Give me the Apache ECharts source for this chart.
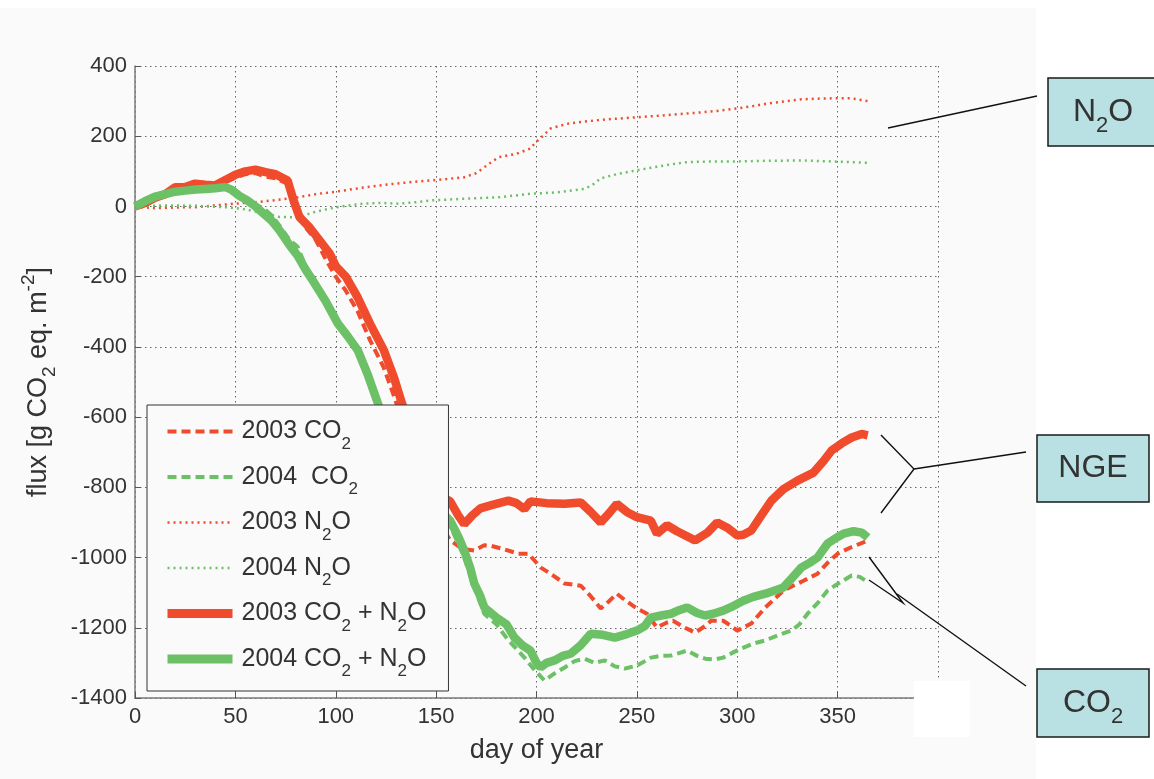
<!DOCTYPE html>
<html>
<head>
<meta charset="utf-8">
<script src="https://cdn.jsdelivr.net/npm/echarts@6/dist/echarts.min.js"></script>
<style>
  html, body { margin: 0; padding: 0; background: #fff; }
  #bg { position: absolute; left: 0; top: 8px; width: 1036px; height: 771px; background: #fafafa; }
  #chart { position: absolute; left: 0; top: 0; width: 1154px; height: 779px; }
</style>
</head>
<body>
<div id="bg"></div>
<div id="chart"></div>
<script>
// 2003 CO2 (dashed red)
var d03co2 = [0,5,10,15,20,25,30,35,40,45,50,55,60,65,70,76,80,85,90,95,100,105,111,117,124,129,133,137,142,147,152,157,163,169,174,177,183,191,196,202,208,214,222,227,232,236,240,245,250,255,260,265,268,274,279,284,287,293,297,300,307,314,323,333,340,345,350,357,365];
var v03co2 = [0,12,25,35,55,55,65,62,58,70,82,92,95,85,80,65,0,-60,-95,-150,-200,-240,-300,-380,-460,-540,-610,-690,-770,-850,-905,-951,-975,-980,-965,-966,-975,-989,-989,-1028,-1050,-1074,-1080,-1110,-1145,-1125,-1103,-1125,-1145,-1160,-1199,-1185,-1180,-1200,-1214,-1195,-1180,-1180,-1195,-1208,-1188,-1142,-1094,-1066,-1046,-1015,-989,-970,-952];

// 2004 CO2 (dashed green)
var d04co2 = [0,5,10,15,20,25,30,35,40,45,48,52,56,60,64,68,72,77,81,85,89,95,101,106,111,116,121,126,131,136,141,146,151,157,161,164,167,170,174,180,186,190,194,199,204,209,214,219,224,229,234,239,244,250,254,257,262,267,271,275,280,284,289,293,298,302,308,314,320,327,331,335,340,345,350,357,361,364];
var v04co2 = [0,15,28,35,42,45,48,50,52,55,50,35,20,5,-5,-25,-55,-95,-115,-170,-210,-270,-335,-378,-420,-490,-570,-650,-720,-780,-825,-860,-880,-910,-960,-1000,-1050,-1100,-1160,-1190,-1236,-1260,-1285,-1320,-1350,-1330,-1313,-1295,-1288,-1300,-1293,-1310,-1316,-1308,-1295,-1285,-1280,-1279,-1272,-1265,-1280,-1288,-1290,-1285,-1270,-1259,-1245,-1236,-1222,-1208,-1190,-1160,-1130,-1094,-1075,-1051,-1055,-1066];

// 2003 N2O (dotted red)
var d03n2o = [0,10,20,30,40,50,60,70,81,90,100,114,125,135,147,155,164,170,176,181,190,197,199,203,207,215,224,235,250,265,282,290,300,308,315,325,332,340,348,357,362,366];
var v03n2o = [0,-5,-3,-2,3,8,12,18,26,35,42,54,62,68,74,78,83,95,120,140,150,165,179,200,222,235,242,248,254,260,268,272,279,286,293,300,305,307,308,308,303,299];

// 2004 N2O (dotted green)
var d04n2o = [0,14,30,47,55,64,72,81,90,97,105,114,122,131,140,147,164,181,197,210,224,228,232,240,250,262,274,286,298,315,332,348,357,366];
var v04n2o = [0,3,2,-3,-8,-20,-30,-31,-15,-6,2,8,10,8,12,17,22,26,36,40,50,62,80,92,103,115,126,128,128,130,131,128,126,124];

// 2003 CO2 + N2O (thick red)
var d03tot = [0,5,10,15,20,25,30,35,40,45,50,55,60,65,70,76,79,82,87,92,97,100,105,111,117,124,129,133,137,142,147,152,157,161,164,168,172,178,186,190,194,197,205,214,222,227,232,236,240,245,250,257,260,265,270,279,285,290,295,300,303,307,312,317,323,330,338,343,347,352,357,362,365];
var v03tot = [0,10,25,35,55,55,65,62,60,75,90,100,105,98,92,74,17,-31,-60,-97,-134,-170,-200,-260,-333,-410,-487,-561,-630,-710,-780,-825,-840,-880,-905,-880,-860,-850,-838,-845,-862,-840,-845,-847,-843,-870,-900,-875,-847,-870,-885,-895,-932,-908,-925,-951,-930,-900,-915,-937,-935,-923,-880,-838,-805,-781,-758,-725,-695,-675,-658,-648,-652];

// 2004 CO2 + N2O (thick green)
var d04tot = [0,5,10,15,20,25,30,35,40,45,48,52,56,60,64,68,72,77,81,85,89,95,101,106,111,116,121,126,131,136,141,146,151,157,161,164,167,169,172,174,180,185,189,193,197,200,202,205,209,213,217,222,227,233,239,245,250,254,257,262,267,271,275,280,284,288,293,298,303,308,314,318,323,327,332,336,340,345,349,353,358,362,365];
var v04tot = [0,15,28,35,42,45,48,50,52,55,48,30,17,0,-20,-40,-68,-110,-140,-180,-215,-270,-333,-370,-410,-480,-561,-640,-710,-770,-810,-840,-860,-895,-940,-980,-1030,-1074,-1110,-1142,-1171,-1190,-1228,-1250,-1265,-1300,-1313,-1300,-1293,-1280,-1274,-1250,-1217,-1220,-1228,-1218,-1208,-1195,-1171,-1165,-1160,-1150,-1142,-1158,-1165,-1160,-1151,-1138,-1123,-1112,-1103,-1095,-1085,-1060,-1028,-1015,-1000,-960,-945,-932,-925,-929,-943];

var RED = '#f04b2c';
var GREEN = '#6cc066';
var FONT = 'Liberation Sans';

function pairs(d, v) {
  var out = [];
  for (var i = 0; i < d.length; i++) out.push([d[i], v[i]]);
  return out;
}

var legendText = {
  '2003 CO2': '{n|2003 CO}{s|2}',
  '2004 CO2': '{n|2004  CO}{s|2}',
  '2003 N2O': '{n|2003 N}{s|2}{n|O}',
  '2004 N2O': '{n|2004 N}{s|2}{n|O}',
  '2003 CO2 + N2O': '{n|2003 CO}{s|2}{n| + N}{s|2}{n|O}',
  '2004 CO2 + N2O': '{n|2004 CO}{s|2}{n| + N}{s|2}{n|O}'
};

// sub / superscripts through rich text line boxes
function richStyle(big, small, lh) {
  return {
    n: { fontSize: big, lineHeight: lh, color: '#333', fontFamily: FONT },
    s: { fontSize: small, lineHeight: small, verticalAlign: 'bottom', color: '#333', fontFamily: FONT },
    p: { fontSize: small, lineHeight: small, verticalAlign: 'top', color: '#333', fontFamily: FONT }
  };
}

function line(name, d, v, color, width, type) {
  return {
    name: name,
    type: 'line',
    data: pairs(d, v),
    symbol: 'none',
    showSymbol: false,
    lineStyle: { color: color, width: width, type: type },
    itemStyle: { color: color }
  };
}

function legendItem(name, color, width, type) {
  return { name: name, lineStyle: { color: color, width: width, type: type }, itemStyle: { opacity: 0 } };
}

function boxText(x, y, text) {
  var r = richStyle(32, 22, 50);
  r.n.fill = '#333'; r.s.fill = '#333';
  return { type: 'text', z: 101, x: x, y: y, style: { text: text, align: 'center', verticalAlign: 'middle', rich: r } };
}

var chart = echarts.init(document.getElementById('chart'));
chart.setOption({
  animation: false,
  backgroundColor: 'transparent',
  textStyle: { fontFamily: FONT },
  grid: { left: 135, top: 66, right: 216, bottom: 81 },
  xAxis: {
    type: 'value', min: 0, max: 400, interval: 50,
    name: 'day of year', nameLocation: 'middle', nameGap: 39,
    nameTextStyle: { fontSize: 27, color: '#333' },
    axisLine: { onZero: false, lineStyle: { color: '#7a7a7a', width: 1.5 } },
    axisTick: { inside: true, length: 6, lineStyle: { color: '#555' } },
    axisLabel: { fontSize: 22, color: '#333', margin: 8 },
    splitLine: { show: true, lineStyle: { color: '#666', type: [1.5, 3.5], width: 1 } }
  },
  yAxis: {
    type: 'value', min: -1400, max: 400, interval: 200,
    name: '{n|flux [g CO}{s|2}{n| eq. m}{p|-2}{n|]}', nameLocation: 'middle', nameGap: 76, nameRotate: 90,
    nameTextStyle: { rich: richStyle(27, 19, 40) },
    axisLine: { show: true, onZero: false, lineStyle: { color: '#7a7a7a', width: 1.5 } },
    axisTick: { show: true, inside: true, length: 6, lineStyle: { color: '#555' } },
    axisLabel: { fontSize: 22, color: '#333', margin: 8, formatter: function (v) { return String(v); } },
    splitLine: { show: true, lineStyle: { color: '#666', type: [1.5, 3.5], width: 1 } }
  },
  legend: {
    orient: 'vertical', left: 147, top: 405,
    zlevel: 1,
    selectedMode: false,
    backgroundColor: '#fafafa', borderColor: '#333', borderWidth: 1, borderRadius: 0,
    padding: [14, 22, 11, 16],
    itemWidth: 65, itemHeight: 14, itemGap: 12,
    data: [
      legendItem('2003 CO2', RED, 4, [9, 5]),
      legendItem('2004 CO2', GREEN, 4, [9, 5]),
      legendItem('2003 N2O', RED, 2.5, [2, 4]),
      legendItem('2004 N2O', GREEN, 2.5, [2, 4]),
      legendItem('2003 CO2 + N2O', RED, 9, 'solid'),
      legendItem('2004 CO2 + N2O', GREEN, 9, 'solid')
    ],
    formatter: function (name) { return legendText[name]; },
    textStyle: { padding: [0, 0, 0, 4], rich: richStyle(25, 17, 42) }
  },
  series: [
    line('2003 CO2', d03co2, v03co2, RED, 4, [9, 5]),
    line('2004 CO2', d04co2, v04co2, GREEN, 4, [9, 5]),
    line('2003 N2O', d03n2o, v03n2o, RED, 2.5, [2, 4]),
    line('2004 N2O', d04n2o, v04n2o, GREEN, 2.5, [2, 4]),
    line('2003 CO2 + N2O', d03tot, v03tot, RED, 8.5, 'solid'),
    line('2004 CO2 + N2O', d04tot, v04tot, GREEN, 8.5, 'solid')
  ],
  graphic: [
    { type: 'rect', z: 100, shape: { x: 914, y: 681, width: 56, height: 56 }, style: { fill: '#fff' } },
    // annotation boxes
    { type: 'rect', z: 100, shape: { x: 1048, y: 78, width: 112, height: 68 }, style: { fill: '#b9e0e2', stroke: '#1a1a1a', lineWidth: 1.5 } },
    boxText(1103, 112, '{n|N}{s|2}{n|O}'),
    { type: 'rect', z: 100, shape: { x: 1037, y: 435, width: 112, height: 67 }, style: { fill: '#b9e0e2', stroke: '#1a1a1a', lineWidth: 1.5 } },
    boxText(1093, 468, '{n|NGE}'),
    { type: 'rect', z: 100, shape: { x: 1037, y: 669, width: 112, height: 68 }, style: { fill: '#b9e0e2', stroke: '#1a1a1a', lineWidth: 1.5 } },
    boxText(1093, 703, '{n|CO}{s|2}'),
    // leader lines
    { type: 'line', z: 100, shape: { x1: 888, y1: 128, x2: 1037, y2: 96 }, style: { stroke: '#111', lineWidth: 1.4 } },
    { type: 'polyline', z: 100, shape: { points: [[881, 435], [914, 469], [881, 513]] }, style: { stroke: '#111', lineWidth: 1.4, fill: null } },
    { type: 'line', z: 100, shape: { x1: 914, y1: 469, x2: 1026, y2: 452 }, style: { stroke: '#111', lineWidth: 1.4 } },
    { type: 'polyline', z: 100, shape: { points: [[869, 557], [903, 603], [869, 580]] }, style: { stroke: '#111', lineWidth: 1.4, fill: null } },
    { type: 'line', z: 100, shape: { x1: 897, y1: 594, x2: 1026, y2: 686 }, style: { stroke: '#111', lineWidth: 1.4 } }
  ]
});
</script>
</body>
</html>
